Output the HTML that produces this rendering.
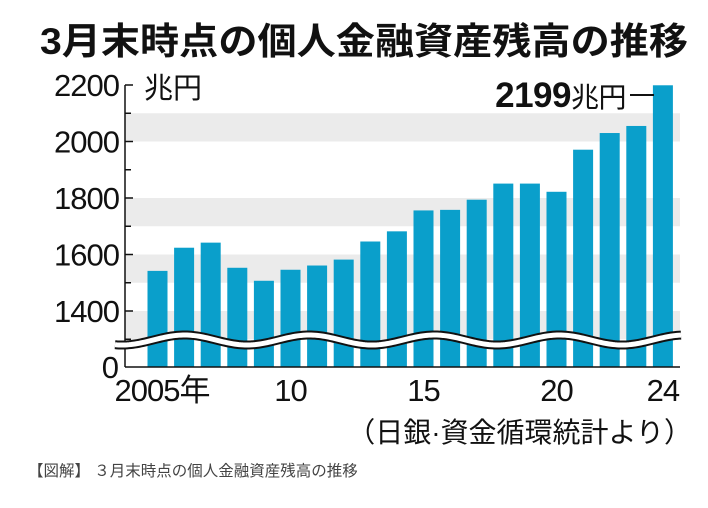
<!DOCTYPE html>
<html><head><meta charset="utf-8">
<style>
body{margin:0;background:#fff;width:708px;height:503px;overflow:hidden;font-family:"Liberation Sans","Noto Sans CJK JP",sans-serif;}
svg text{font-family:"Liberation Sans","Noto Sans CJK JP",sans-serif;}
</style></head><body>
<svg id="chart" width="708" height="503" viewBox="0 0 708 503" xmlns="http://www.w3.org/2000/svg">
<text x="364" y="54" text-anchor="middle" font-size="37" font-weight="bold" fill="#111" textLength="648" lengthAdjust="spacingAndGlyphs">3月末時点の個人金融資産残高の推移</text>
<g id="bands"></g>
<g id="bars"></g>
<g id="axis"></g>
<g id="xlabels"></g>
<text x="144" y="98" font-size="29" fill="#111">兆円</text>
<text x="626" y="107" text-anchor="end" font-size="35" font-weight="bold" fill="#111" letter-spacing="-0.5">2199<tspan font-size="28" font-weight="normal">兆円</tspan></text>
<line x1="630" y1="95" x2="654" y2="95" stroke="#111" stroke-width="2"/>
<text x="692" y="442" text-anchor="end" font-size="28" fill="#111">（日銀·資金循環統計より）</text>
<text x="28" y="476" font-size="15.5" fill="#444">【図解】 ３月末時点の個人金融資産残高の推移</text>
</svg>
<script>
const years=[2005,2006,2007,2008,2009,2010,2011,2012,2013,2014,2015,2016,2017,2018,2019,2020,2021,2022,2023,2024];
const values=[1542,1624,1642,1553,1507,1546,1561,1582,1646,1682,1756,1758,1794,1851,1851,1822,1971,2030,2055,2199];
const yTicks=[1400,1600,1800,2000,2200];
const xLabels={2005:"2005年",2010:"10",2015:"15",2020:"20",2024:"24"};
const NS="http://www.w3.org/2000/svg";
const base=367, axisX=125, plotR=680;
function y(v){return 311-(v-1400)*0.2825;}
function x(i){return 147.5+i*26.6;}
const bw=20;
function mk(t,a,p){const e=document.createElementNS(NS,t);for(const k in a)e.setAttribute(k,a[k]);p.appendChild(e);return e;}
const bands=document.getElementById('bands');
[[1300,1400],[1500,1600],[1700,1800],[2000,2100]].forEach(b=>{
 const r=mk('rect',{x:axisX,y:y(b[1]),width:plotR-axisX,height:y(b[0])-y(b[1]),fill:'#ebebeb'},bands);
 
 
});
const bars=document.getElementById('bars');
values.forEach((v,i)=>{
 const r=mk('rect',{x:x(i),y:y(v),width:bw,height:base-y(v),fill:'#0a9fcb'},bars);
 
 
});
const ax=document.getElementById('axis');
mk('line',{x1:axisX,y1:y(2200),x2:axisX,y2:base,stroke:'#111','stroke-width':1.5},ax);
mk('line',{x1:axisX,y1:base,x2:plotR,y2:base,stroke:'#111','stroke-width':1.5},ax);
for(let v=1300;v<=2200;v+=100){mk('line',{x1:axisX,y1:y(v),x2:axisX+(v%200==0?8:6),y2:y(v),stroke:'#111','stroke-width':1.5},ax);}
yTicks.forEach(v=>{const t=mk('text',{x:119,y:y(v)+11,'text-anchor':'end','font-size':31,fill:'#111','letter-spacing':'-1'},ax);t.textContent=v;
 
 });
const z=mk('text',{x:119,y:base+11,'text-anchor':'end','font-size':31,fill:'#111'},ax);z.textContent='0';
let d='';for(let px=115;px<=682;px+=2){const yy=340+5*Math.cos((px-247)/125*2*Math.PI);d+=(d?'L':'M')+px+','+yy;}
mk('path',{d:d,fill:'none',stroke:'#111','stroke-width':9},ax);
mk('path',{d:d,fill:'none',stroke:'#fff','stroke-width':5},ax);
const xl=document.getElementById('xlabels');
years.forEach((yr,i)=>{if(xLabels[yr]){const first=i==0;const t=mk('text',{x:first?x(i)-33:x(i)+bw/2,y:401,'text-anchor':first?'start':'middle','font-size':31,fill:'#111','letter-spacing':'-1'},xl);t.textContent=xLabels[yr];
 
 }});
</script>
</body></html>
